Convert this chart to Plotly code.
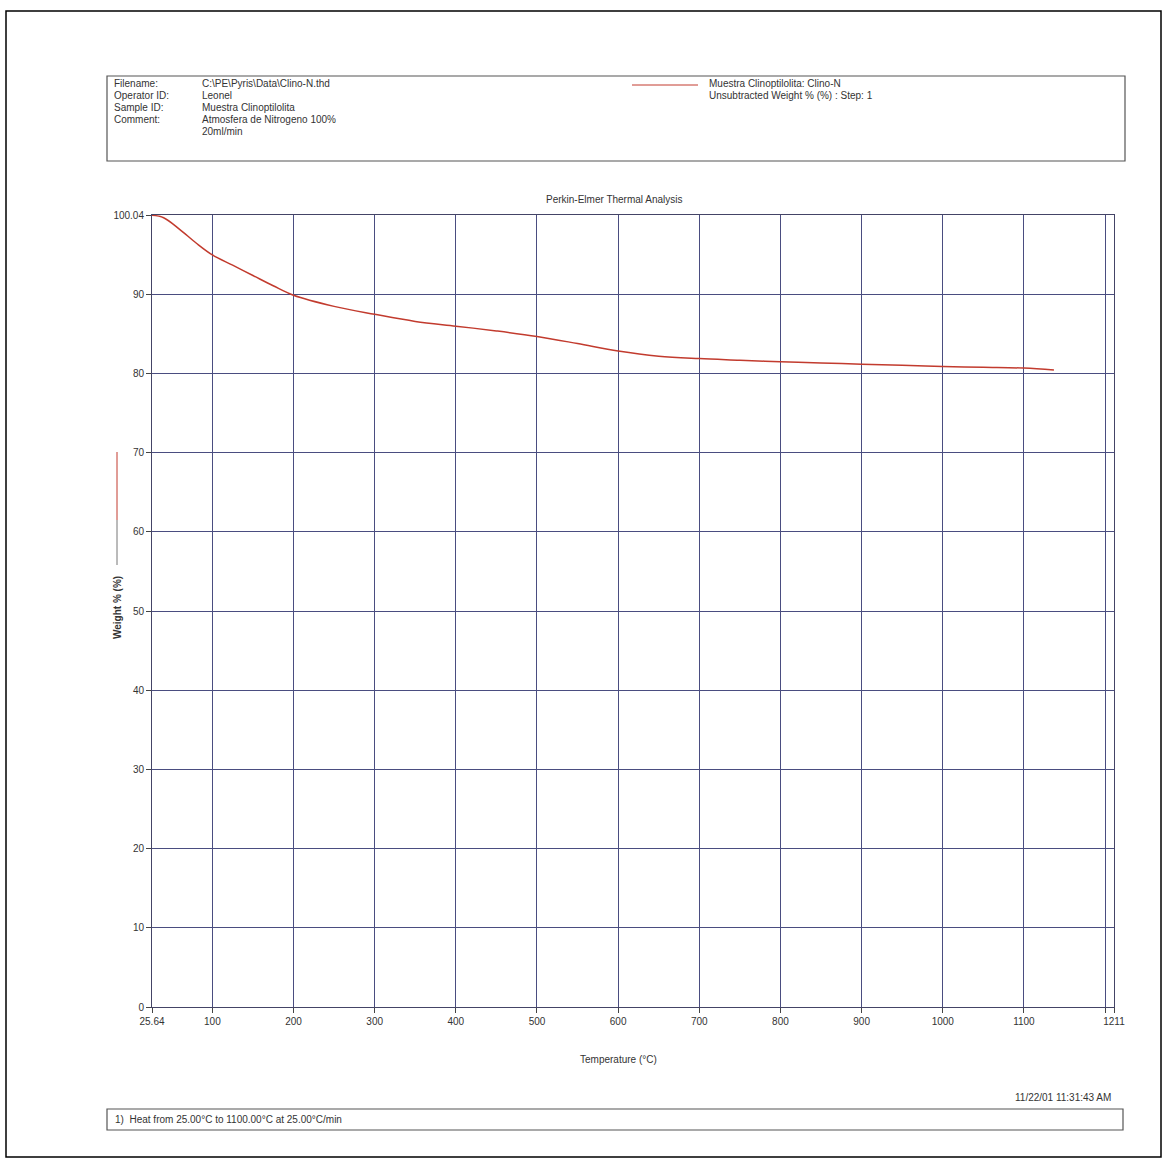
import plotly.graph_objects as go

# ---- data ----
temperature_c = [25.64, 40, 60, 80, 100, 125, 150, 175, 200, 250, 300, 350, 400, 450,
                 500, 550, 600, 650, 700, 750, 800, 850, 900, 950, 1000, 1050, 1100, 1137]
weight_pct = [100.0, 99.7, 98.2, 96.5, 95.0, 93.7, 92.4, 91.1, 89.9, 88.5, 87.5, 86.6,
              86.0, 85.4, 84.7, 83.8, 82.85, 82.2, 81.9, 81.7, 81.5, 81.35, 81.2, 81.05,
              80.9, 80.8, 80.7, 80.45]

x_tickvals = [25.64, 100, 200, 300, 400, 500, 600, 700, 800, 900, 1000, 1100, 1200, 1211]
x_ticktext = ["25.64", "100", "200", "300", "400", "500", "600", "700", "800", "900",
              "1000", "1100", "", "1211"]
y_tickvals = [0, 10, 20, 30, 40, 50, 60, 70, 80, 90, 100.04]
y_ticktext = ["0", "10", "20", "30", "40", "50", "60", "70", "80", "90", "100.04"]

header_labels = ["Filename:", "Operator ID:", "Sample ID:", "Comment:", ""]
header_values = ["C:\\PE\\Pyris\\Data\\Clino-N.thd", "Leonel", "Muestra Clinoptilolita",
                 "Atmosfera de Nitrogeno 100%", "20ml/min"]
legend_lines = ["Muestra Clinoptilolita: Clino-N", "Unsubtracted Weight % (%) : Step: 1"]

W, H = 1167, 1163
L, R, T, B = 152, 1114, 215, 1007  # plot area in pixels


def px(x):
    return (x - L) / (R - L)


def py(y):
    return (B - y) / (B - T)


FONT = "Liberation Sans, Arial, sans-serif"
GRID = "#4a4d80"
CURVE = "#c23b2e"

fig = go.Figure()
fig.add_trace(go.Scatter(x=temperature_c, y=weight_pct, mode="lines",
                         line=dict(color=CURVE, width=1.5, shape="spline"),
                         showlegend=False, hoverinfo="x+y"))

fig.update_layout(
    width=W, height=H,
    margin=dict(l=L, r=W - R, t=T, b=H - B),
    paper_bgcolor="white", plot_bgcolor="white",
    font=dict(family=FONT, size=10, color="#333333"),
    showlegend=False,
)
fig.update_xaxes(range=[25.64, 1211], tickvals=x_tickvals, ticktext=x_ticktext,
                 showgrid=True, gridcolor=GRID, gridwidth=1, zeroline=False,
                 showline=True, linecolor="#444466", linewidth=1, mirror=True,
                 ticks="outside", ticklen=5, tickcolor="#444", tickfont=dict(size=10))
fig.update_yaxes(range=[0, 100.04], tickvals=y_tickvals, ticktext=y_ticktext,
                 showgrid=True, gridcolor=GRID, gridwidth=1, zeroline=False,
                 showline=True, linecolor="#444466", linewidth=1, mirror=True,
                 ticks="outside", ticklen=5, tickcolor="#444", tickfont=dict(size=10))

shapes = []
annots = []

# outer frame
shapes.append(dict(type="rect", xref="paper", yref="paper", x0=px(6), x1=px(1161),
                   y0=py(1157), y1=py(11), line=dict(color="black", width=1.5)))
# header box
shapes.append(dict(type="rect", xref="paper", yref="paper", x0=px(107), x1=px(1125),
                   y0=py(161), y1=py(76), line=dict(color="#555555", width=1.2)))
for i, (lab, val) in enumerate(zip(header_labels, header_values)):
    yy = 84 + 12 * i
    if lab:
        annots.append(dict(text=lab, x=px(112), y=py(yy), xref="paper", yref="paper",
                           xanchor="left", yanchor="middle", showarrow=False,
                           font=dict(size=10, color="#333")))
    annots.append(dict(text=val, x=px(200), y=py(yy), xref="paper", yref="paper",
                       xanchor="left", yanchor="middle", showarrow=False,
                       font=dict(size=10, color="#333")))
# header legend
shapes.append(dict(type="line", xref="paper", yref="paper", x0=px(632), x1=px(698),
                   y0=py(85), y1=py(85), line=dict(color=CURVE, width=1)))
for i, t in enumerate(legend_lines):
    annots.append(dict(text=t, x=px(707), y=py(84 + 12 * i), xref="paper", yref="paper",
                       xanchor="left", yanchor="middle", showarrow=False,
                       font=dict(size=10, color="#333")))

# title
annots.append(dict(text="Perkin-Elmer Thermal Analysis", x=px(614), y=py(199),
                   xref="paper", yref="paper", xanchor="center", yanchor="middle",
                   showarrow=False, font=dict(size=10, color="#333")))
# y title with legend mark
shapes.append(dict(type="line", xref="paper", yref="paper", x0=px(117), x1=px(117),
                   y0=py(452), y1=py(520), line=dict(color=CURVE, width=1)))
shapes.append(dict(type="line", xref="paper", yref="paper", x0=px(117), x1=px(117),
                   y0=py(520), y1=py(565), line=dict(color="#777777", width=1)))
annots.append(dict(text="<b>Weight % (%)</b>", x=px(117), y=py(608), xref="paper",
                   yref="paper", xanchor="center", yanchor="middle", textangle=-90,
                   showarrow=False, font=dict(size=10, color="#333")))
# x title
annots.append(dict(text="Temperature (°C)", x=px(618), y=py(1059), xref="paper",
                   yref="paper", xanchor="center", yanchor="middle", showarrow=False,
                   font=dict(size=10, color="#333")))
# timestamp
annots.append(dict(text="11/22/01 11:31:43 AM", x=px(1113), y=py(1097), xref="paper",
                   yref="paper", xanchor="right", yanchor="middle", showarrow=False,
                   font=dict(size=10, color="#333")))
# method box
shapes.append(dict(type="rect", xref="paper", yref="paper", x0=px(107), x1=px(1123),
                   y0=py(1130), y1=py(1109), line=dict(color="#555555", width=1.2)))
annots.append(dict(text="1)  Heat from 25.00°C to 1100.00°C at 25.00°C/min", x=px(113),
                   y=py(1119), xref="paper", yref="paper", xanchor="left",
                   yanchor="middle", showarrow=False, font=dict(size=10, color="#333")))

fig.update_layout(shapes=shapes, annotations=annots)
fig.write_html("out.html", config={"displayModeBar": False},
               post_script="document.body.style.margin='0';document.body.style.overflow='hidden';")
